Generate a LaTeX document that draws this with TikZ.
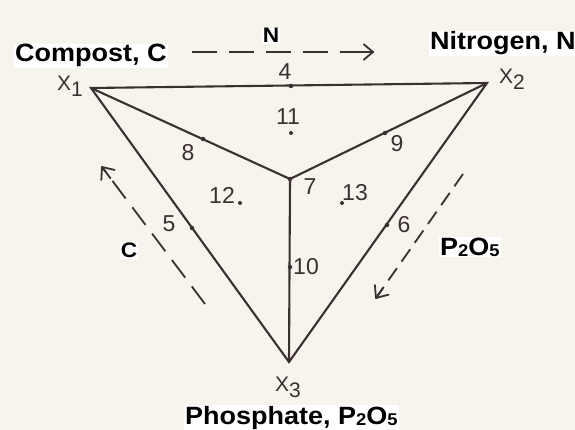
\documentclass[tikz,border=0pt]{standalone}
\usepackage{fontspec}
\setmainfont{Liberation Sans}
\newfontfamily\labfont[FakeStretch=1.08]{Liberation Sans}
\usetikzlibrary{calc}
\definecolor{ink}{RGB}{58,48,48}
\definecolor{paper}{RGB}{246,244,236}
\newcommand\vx[1]{X\raisebox{-6pt}{#1}}
\newcommand\pfive{P\raisebox{-1pt}{\fontsize{17}{17}\selectfont 2}O\raisebox{-1pt}{\fontsize{17}{17}\selectfont 5}}
\begin{document}
\begin{tikzpicture}[x=1pt,y=-1pt,
  edge/.style={draw=ink,line width=2.1pt},
  pt/.style={circle,fill=ink,inner sep=0pt,minimum size=4.5pt},
  num/.style={text=ink,font=\fontsize{23}{23}\selectfont,inner sep=0pt},
  vtx/.style={text=ink,font=\fontsize{21}{21}\selectfont,inner sep=0pt},
  big/.style={font=\labfont\bfseries\fontsize{25}{25}\selectfont,inner sep=1pt,fill=white},
  small/.style={font=\labfont\bfseries\fontsize{21}{21}\selectfont,inner sep=1pt,fill=white},
  flow/.style={draw=ink,line width=1.8pt},
  barb/.style={draw=ink,line width=1.8pt,line cap=round,line join=round}
]
\fill[paper] (0,0) rectangle (575,430);
\useasboundingbox (0,0) rectangle (575,430);
% vertices
\coordinate (X1) at (91,88);
\coordinate (X2) at (487,83);
\coordinate (X3) at (289,362);
\coordinate (C7) at (290,179);
% triangle and medians
\draw[edge,line join=miter] (X1) -- (X2) -- (X3) -- cycle;
\draw[edge] (X1) -- (C7);
\draw[edge] (X2) -- (C7);
\draw[edge] (X3) -- (C7);
% points
\node[pt] (p4) at (291,86) {};
\node[pt] (p8) at (203,139) {};
\node[pt] (p9) at (385,133) {};
\node[pt] (p5) at (192,228) {};
\node[pt] (p6) at (387,225) {};
\node[pt] (p10) at (290,267) {};
\node[pt] (p7) at (290,179) {};
\node[pt,minimum size=4pt] (p11) at (291,133) {};
\node[pt,minimum size=4pt] (p12) at (240,203) {};
\node[pt,minimum size=4pt] (p13) at (342,203) {};
% number labels
\node[num] (l4) at (285,72) {4};
\node[num] (l11) at (288,117) {11};
\node[num] (l8) at (188,153) {8};
\node[num] (l9) at (397,144) {9};
\node[num] (l7) at (310,187) {7};
\node[num] (l12) at (222,195) {12};
\node[num] (l13) at (355,193) {13};
\node[num] (l5) at (169,224) {5};
\node[num] (l6) at (404,225) {6};
\node[num] (l10) at (306,267) {10};
% vertex labels
\node[vtx] (v1) at (70,86) {\vx{1}};
\node[vtx] (v2) at (512,79) {\vx{2}};
\node[vtx] (v3) at (288,387) {\vx{3}};
% component labels
\node[big,anchor=base west] (comp) at (14,62) {Compost, C};
\node[big,anchor=base west] (nitro) at (429,50) {Nitrogen, N};
\node[big,anchor=base west] (phos) at (184,424) {Phosphate, \pfive};
\node[small,anchor=base] (nlab) at (271,43) {N};
\node[small,anchor=base] (clab) at (129,258) {C};
\node[big,anchor=base west] (plab) at (439,255) {\pfive};
% flow arrows
\coordinate (ta) at (192,52);
\coordinate (tb) at (373,52);
\coordinate (la) at (205,304);
\coordinate (lb) at (102,167);
\coordinate (ra) at (463,174);
\coordinate (rb) at (376,298);
\draw[flow,dash pattern=on 25pt off 12pt] (ta) -- ($(tb)!6pt!(ta)$);
\draw[flow,dash pattern=on 22pt off 11pt] (la) -- (lb);
\draw[flow,dash pattern=on 15pt off 8pt] (ra) -- (rb);
\draw[barb] ($(tb)!12pt!40:(ta)$) -- (tb) -- ($(tb)!12pt!-40:(ta)$);
\draw[flow,line cap=round] ($(tb)!14pt!(ta)$) -- (tb);
\draw[barb] ($(lb)!13pt!40:(la)$) -- (lb) -- ($(lb)!13pt!-40:(la)$);
\draw[flow,line cap=round] ($(lb)!14pt!(la)$) -- (lb);
\draw[barb] ($(rb)!13pt!40:(ra)$) -- (rb) -- ($(rb)!13pt!-40:(ra)$);
\draw[flow,line cap=round] ($(rb)!12pt!(ra)$) -- (rb);
\end{tikzpicture}
\end{document}
